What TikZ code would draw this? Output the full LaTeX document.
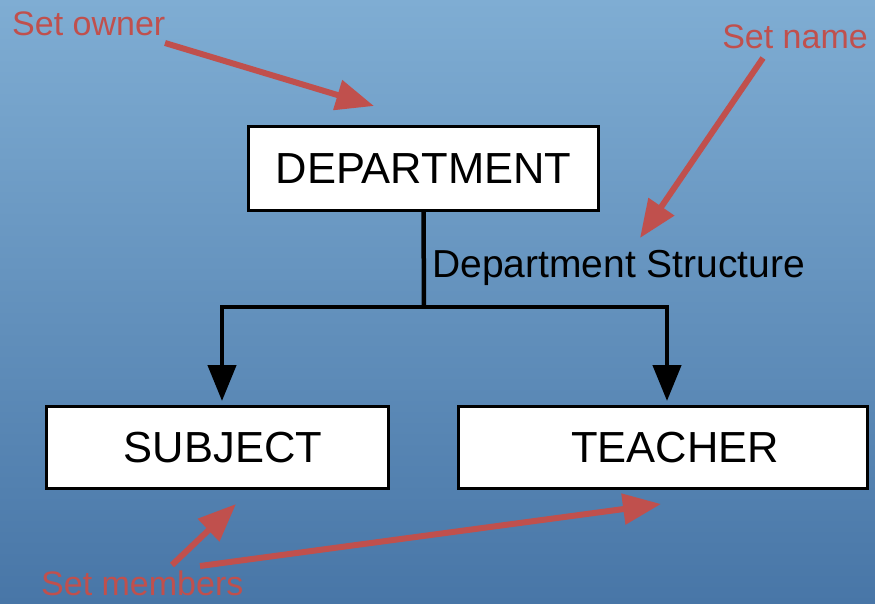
\documentclass[tikz,border=0pt]{standalone}
\usepackage{fontspec}
\setmainfont{Liberation Sans}
\usetikzlibrary{arrows.meta, positioning}

\definecolor{bgtop}{RGB}{127,173,211}
\definecolor{bgbot}{RGB}{72,118,167}
\definecolor{notered}{RGB}{192,80,77}

\tikzset{
    entity/.style={draw=black, line width=3pt, fill=white, inner sep=0pt,
        font=\fontsize{43.5}{50}\selectfont},
    link/.style={line width=4.5pt, -{Triangle[length=36pt,width=28pt]}},
    note/.style={text=notered, inner sep=0pt, font=\fontsize{34}{40}\selectfont},
    pointer/.style={draw=notered, line width=6pt, -{Triangle[length=38pt,width=30pt]}},
}

\begin{document}
\begin{tikzpicture}[x=1pt, y=-1pt]
    % --- Background ---
    \useasboundingbox (0,0) rectangle (875,603);
    \shade[top color=bgtop, bottom color=bgbot] (0,0) rectangle (875,603);

    % --- Entities (text sits a little right of centre in the lower boxes) ---
    \node[entity, minimum width=350pt, minimum height=84pt] (dept) at (423.5,168.5) {DEPARTMENT};
    \node[entity, minimum width=342pt, minimum height=82pt] (subj) at (217.5,447.5) {\hspace*{11pt}SUBJECT};
    \node[entity, minimum width=409pt, minimum height=82pt] (teach) at (663,447.5) {\hspace*{24pt}TEACHER};

    % --- Structure connector, split into two arrows ---
    \coordinate (split) at (424,307);
    \coordinate (tipl) at (222,401);
    \coordinate (tipr) at (667,401);
    \draw[line width=4.5pt] (dept.south) -- (split);
    \draw[link] (split) -| (tipl);
    \draw[link] (split) -| (tipr);
    \node[anchor=base west, inner sep=0pt, font=\fontsize{39}{46}\selectfont]
        (setlbl) at (432,277) {Department Structure};

    % --- Red annotations ---
    \node[note, anchor=base west] (owner) at (12,35) {Set owner};
    \node[note, anchor=base east] (setname) at (868,48) {Set name};
    \node[note, anchor=base west] (members) at (41,595) {Set members};

    \coordinate (ownerfrom) at (165,43);
    \coordinate (ownerto) at (374,106);
    \draw[pointer] (ownerfrom) -- (ownerto);

    \coordinate (namefrom) at (763,58);
    \coordinate (nameto) at (640,238);
    \draw[pointer] (namefrom) -- (nameto);

    \coordinate (subjfrom) at (172,565);
    \coordinate (subjto) at (236,504);
    \draw[pointer] (subjfrom) -- (subjto);

    \coordinate (teachfrom) at (200,566);
    \coordinate (teachto) at (661,504);
    \draw[pointer] (teachfrom) -- (teachto);
\end{tikzpicture}
\end{document}
